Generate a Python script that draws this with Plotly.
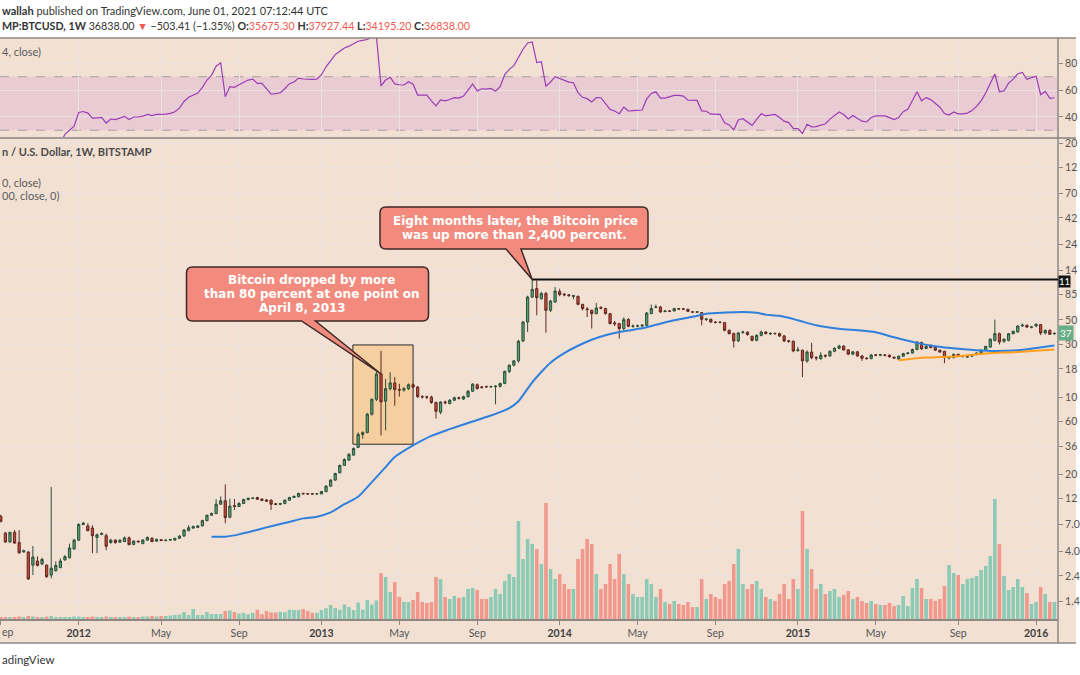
import math
import pandas as pd
import plotly.graph_objects as go

# ------------------------------------------------------------------ data
bar_start = "2011-09-05"          # first weekly bar (Mondays), BITSTAMP BTCUSD 1W

opens = [
    8.3, 5.85, 4.86, 5.95, 4.82, 3.95, 3.95, 3.0, 3.27, 3.08,
    3.0, 2.44, 2.67, 2.86, 3.34, 3.5, 4.2, 5.05, 7.0, 6.8,
    6.5, 5.35, 5.7, 5.55, 4.8, 5.05, 4.85, 4.9, 5.3, 4.62,
    4.95, 4.7, 5.05, 5.25, 4.95, 5.1, 5.0, 5.05, 5.07, 5.25,
    5.5, 6.15, 6.5, 6.6, 6.8, 7.6, 8.5, 8.8, 10.7, 11.5,
    8.15, 10.4, 10.2, 10.85, 11.8, 12.1, 12.3, 11.9, 11.7, 11.65,
    10.8, 10.7, 10.85, 11.65, 12.3, 12.5, 13.4, 13.35, 13.3, 13.25,
    13.25, 13.9, 15.6, 17.7, 20.6, 24.0, 26.8, 29.8, 35.0, 45.9,
    47.7, 70.0, 95.5, 162.0, 91.8, 119.3, 134.5, 117.0, 116.0, 119.0,
    129.5, 123.5, 101.0, 100.5, 100.0, 89.3, 73.0, 90.3, 87.5, 93.7,
    98.5, 96.0, 101.0, 113.0, 129.5, 123.5, 124.5, 124.0, 124.5, 125.0,
    133.0, 171.0, 194.5, 213.0, 323.0, 479.0, 807.0, 962.0, 781.0, 867.0,
    612.0, 727.0, 905.0, 855.0, 845.0, 818.0, 819.0, 693.0, 630.0, 612.0,
    571.0, 650.0, 634.0, 571.0, 470.0, 464.0, 418.0, 504.0, 438.0, 440.0,
    440.0, 448.0, 571.0, 650.0, 655.0, 595.0, 603.0, 603.0, 634.0, 630.0,
    625.0, 592.0, 588.0, 583.0, 504.0, 507.0, 479.0, 477.0, 473.0, 403.0,
    376.0, 323.0, 385.0, 387.0, 356.0, 327.0, 363.0, 389.0, 374.0, 377.0,
    376.0, 358.0, 323.0, 321.0, 264.0, 266.0, 212.0, 256.0, 228.0, 223.0,
    238.0, 236.0, 260.0, 277.0, 290.0, 268.0, 245.0, 257.0, 236.0, 225.0,
    224.0, 241.0, 240.0, 241.0, 240.0, 230.0, 221.0, 235.0, 248.0, 251.0,
    270.0, 312.0, 276.0, 295.0, 284.0, 266.0, 260.0, 226.0, 228.0, 244.0,
    234.0, 231.0, 235.0, 243.0, 251.0, 266.0, 284.0, 326.0, 376.0, 321.0,
    327.0, 376.0, 389.0, 441.0, 448.0, 430.0, 441.0, 454.0, 381.0, 403.0,
    374.0,
]
highs = [
    8.6, 6.0, 6.0, 6.24, 6.24, 4.15, 4.0, 4.47, 3.6, 3.5,
    3.05, 15.3, 3.25, 3.45, 3.7, 4.7, 5.2, 7.2, 7.4, 7.2,
    6.9, 5.8, 5.95, 5.8, 5.2, 5.15, 5.15, 5.45, 5.45, 5.05,
    5.0, 5.15, 5.45, 5.4, 5.2, 5.15, 5.1, 5.2, 5.3, 5.6,
    6.4, 6.9, 6.85, 6.95, 7.75, 8.6, 9.0, 11.9, 12.6, 16.2,
    12.0, 11.9, 11.2, 12.0, 12.3, 12.3, 12.5, 12.1, 11.9, 11.8,
    11.0, 11.0, 11.8, 12.5, 12.8, 13.6, 13.6, 13.5, 13.45, 13.45,
    14.1, 15.9, 18.0, 20.6, 24.5, 27.8, 31.0, 35.0, 48.0, 49.0,
    72.0, 97.0, 170.0, 262.0, 146.0, 168.0, 152.0, 132.0, 123.0, 133.0,
    133.0, 126.0, 104.0, 103.0, 103.0, 91.0, 92.0, 93.0, 96.0, 101.0,
    101.0, 103.0, 116.0, 134.0, 133.0, 126.0, 127.0, 127.0, 128.0, 135.0,
    174.0, 198.0, 215.0, 330.0, 490.0, 830.0, 1163.0, 1143.0, 900.0, 900.0,
    760.0, 994.0, 960.0, 880.0, 860.0, 845.0, 830.0, 700.0, 655.0, 620.0,
    712.0, 665.0, 645.0, 575.0, 490.0, 470.0, 530.0, 520.0, 455.0, 455.0,
    460.0, 590.0, 689.0, 689.0, 670.0, 615.0, 612.0, 645.0, 640.0, 640.0,
    630.0, 600.0, 600.0, 590.0, 520.0, 515.0, 485.0, 485.0, 480.0, 410.0,
    385.0, 390.0, 400.0, 395.0, 360.0, 370.0, 400.0, 395.0, 385.0, 385.0,
    385.0, 366.0, 330.0, 325.0, 285.0, 270.0, 265.0, 310.0, 235.0, 255.0,
    245.0, 264.0, 283.0, 298.0, 295.0, 272.0, 262.0, 262.0, 240.0, 230.0,
    245.0, 246.0, 246.0, 244.0, 243.0, 233.0, 238.0, 252.0, 256.0, 275.0,
    320.0, 318.0, 295.0, 298.0, 288.0, 270.0, 262.0, 232.0, 248.0, 247.0,
    240.0, 236.0, 246.0, 254.0, 270.0, 292.0, 340.0, 504.0, 385.0, 340.0,
    380.0, 400.0, 448.0, 465.0, 455.0, 440.0, 465.0, 460.0, 410.0, 410.0,
    385.0,
]
lows = [
    7.3, 4.8, 4.8, 4.7, 3.8, 3.9, 2.2, 2.44, 2.92, 3.0,
    2.3, 2.28, 2.62, 2.8, 3.3, 3.45, 4.15, 5.0, 6.9, 6.1,
    3.85, 3.85, 5.6, 4.1, 4.7, 4.7, 4.75, 4.85, 4.55, 4.55,
    4.8, 4.65, 5.0, 4.85, 4.9, 4.95, 4.95, 5.0, 5.0, 5.2,
    5.45, 6.1, 6.4, 6.5, 6.75, 7.5, 8.4, 8.7, 10.6, 7.2,
    8.0, 9.5, 10.1, 10.8, 11.6, 11.9, 11.7, 11.4, 11.2, 9.5,
    10.5, 10.5, 10.7, 11.5, 12.2, 12.4, 13.1, 13.1, 13.1, 13.1,
    13.2, 13.8, 15.5, 17.5, 20.3, 23.8, 26.5, 29.5, 34.5, 42.0,
    47.0, 68.0, 92.0, 45.0, 50.0, 115.0, 83.5, 101.0, 112.0, 116.0,
    120.0, 98.0, 97.0, 96.0, 87.0, 64.0, 70.0, 86.0, 86.0, 92.0,
    95.0, 94.0, 99.0, 111.0, 117.0, 119.0, 121.0, 121.0, 86.0, 122.0,
    131.0, 165.0, 190.0, 205.0, 315.0, 389.0, 790.0, 551.0, 760.0, 384.0,
    590.0, 720.0, 820.0, 820.0, 810.0, 770.0, 680.0, 610.0, 532.0, 418.0,
    560.0, 625.0, 560.0, 455.0, 440.0, 339.0, 400.0, 430.0, 425.0, 430.0,
    435.0, 440.0, 565.0, 640.0, 580.0, 590.0, 590.0, 600.0, 620.0, 618.0,
    590.0, 580.0, 580.0, 448.0, 490.0, 470.0, 465.0, 465.0, 395.0, 370.0,
    281.0, 315.0, 375.0, 360.0, 320.0, 320.0, 355.0, 370.0, 365.0, 368.0,
    350.0, 315.0, 310.0, 255.0, 258.0, 152.0, 205.0, 220.0, 215.0, 218.0,
    228.0, 232.0, 255.0, 272.0, 262.0, 240.0, 240.0, 232.0, 213.0, 218.0,
    220.0, 235.0, 235.0, 234.0, 228.0, 222.0, 217.0, 232.0, 244.0, 248.0,
    266.0, 268.0, 272.0, 276.0, 262.0, 253.0, 203.0, 220.0, 224.0, 232.0,
    228.0, 226.0, 232.0, 240.0, 248.0, 262.0, 280.0, 320.0, 300.0, 310.0,
    320.0, 370.0, 385.0, 435.0, 425.0, 420.0, 430.0, 365.0, 370.0, 365.0,
    370.0,
]
closes = [
    7.5, 4.86, 5.95, 4.75, 3.88, 4.05, 2.25, 3.55, 2.98, 3.38,
    2.36, 2.82, 2.98, 3.27, 3.58, 4.3, 5.05, 7.0, 7.2, 6.15,
    5.55, 5.65, 5.8, 4.45, 5.05, 4.8, 5.05, 5.3, 4.6, 4.95,
    4.88, 5.07, 5.35, 4.9, 5.15, 5.02, 5.05, 5.12, 5.25, 5.5,
    6.24, 6.55, 6.7, 6.8, 7.6, 8.5, 8.8, 10.7, 11.5, 8.1,
    10.3, 10.2, 10.85, 11.8, 12.1, 12.15, 11.85, 11.6, 11.4, 10.7,
    10.65, 10.8, 11.65, 12.3, 12.6, 13.4, 13.3, 13.25, 13.25, 13.3,
    13.95, 15.6, 17.7, 20.3, 24.0, 27.2, 30.3, 34.2, 45.9, 47.7,
    70.0, 95.5, 162.0, 90.5, 119.3, 134.5, 117.0, 116.0, 119.0, 129.5,
    123.5, 101.0, 100.5, 100.0, 89.3, 74.5, 90.3, 89.0, 93.7, 98.7,
    97.5, 101.0, 113.0, 131.0, 119.5, 122.5, 124.0, 124.5, 125.5, 133.0,
    171.0, 194.5, 213.0, 321.0, 479.0, 807.0, 948.0, 797.0, 867.0, 612.0,
    743.0, 915.0, 850.0, 845.0, 832.0, 830.0, 693.0, 634.0, 621.0, 571.0,
    642.0, 640.0, 571.0, 464.0, 462.0, 418.0, 504.0, 438.0, 440.0, 441.0,
    448.0, 578.0, 634.0, 655.0, 591.0, 603.0, 600.0, 634.0, 628.0, 628.0,
    599.0, 590.0, 593.0, 507.0, 510.0, 479.0, 475.0, 476.0, 403.0, 376.0,
    323.0, 381.0, 388.0, 369.0, 327.0, 363.0, 389.0, 376.0, 378.0, 376.0,
    358.0, 323.0, 321.0, 262.0, 268.0, 213.0, 256.0, 228.0, 226.0, 239.0,
    236.0, 260.0, 277.0, 290.0, 268.0, 245.0, 257.0, 236.0, 225.0, 224.0,
    241.0, 240.0, 242.0, 239.0, 232.0, 226.0, 235.0, 248.0, 251.0, 270.0,
    316.0, 274.0, 288.0, 281.0, 266.0, 256.0, 228.0, 228.0, 244.0, 235.0,
    235.0, 232.0, 243.0, 251.0, 266.0, 288.0, 335.0, 376.0, 316.0, 335.0,
    376.0, 395.0, 441.0, 448.0, 431.0, 432.0, 457.0, 381.0, 403.0, 371.0,
    378.0,
]
# weekly volume (relative units)
volumes = [
    2, 2, 2, 2, 2.5, 2, 3, 2.5, 2, 2, 2.5, 3, 2, 2, 2, 2, 2.5,
    2.5, 2, 2, 2.5, 2, 2, 2.5, 2, 2, 2, 2, 2.5, 2, 2, 2.5, 2.5, 3, 2.5,
    3, 3, 3.5, 4, 4.5,
    7, 4, 10, 4, 4, 7, 5, 5, 5, 8, 8.6, 7, 5.5, 6.2, 4.8, 6.2, 9.3, 4.8, 7.9, 6.5,
    6.5, 7.2, 6.9, 9.3, 9, 9, 10, 8, 6.2, 6.2, 9, 10.7, 14, 11, 9.3, 14.5, 12, 9,
    16.5, 9.3, 19, 14.5, 18.6,
    46, 42, 27, 37, 22, 17, 17, 19, 27, 17, 16, 17, 42, 40, 22, 20, 23, 21, 22, 30,
    31, 29, 20, 20, 22, 30, 25, 38, 45, 42, 98, 60, 80, 75,
    70, 55, 116, 50, 40, 45, 35, 30, 30, 60, 70, 80, 75, 45, 30, 35, 55, 40, 65, 45,
    35, 25, 22, 22, 40, 35, 22, 30, 17, 15, 18, 15, 14, 17, 12, 12, 40, 20, 25, 22,
    20, 35, 38, 55, 70, 35, 30, 35, 38, 30, 22, 20, 18, 25, 35, 20, 40, 30, 108, 70,
    50, 30, 35, 25, 28, 30, 22, 24, 28, 20, 22, 18, 16, 18, 15, 14, 14, 16, 13,
    14, 23, 13, 31, 40, 31, 20, 20, 18, 20, 33, 54, 46, 44, 35, 40, 41, 43, 49, 53,
    63, 120, 75, 43, 29, 32, 40, 32, 26, 15, 17, 32, 25, 17, 17,
]
# RSI (14, close) per bar
rsi = [
    18, 20, 19, 21, 20, 17, 14, 13, 16, 15, 14, 13, 16, 20,
    27, 30, 33, 43.3, 44, 42.8, 39, 39.3, 39.6, 35.4, 38.4, 38, 39, 40.4, 38, 39.9,
    39.9, 40.5, 41.8, 41, 41.8, 41.7, 42, 42.6, 43.8, 46.5, 51.5, 54.7, 56, 57.8, 62, 67.5,
    71, 77.8, 80.4, 55, 62.6, 62.1, 64, 66, 67.5, 68.2, 65, 65, 61, 56.9, 57.3, 58,
    61, 64.8, 66, 69, 68.3, 68, 68, 68.2, 71.5, 77.4, 82, 86.5, 89, 91.5, 92.8, 94.5,
    96.5, 97.1, 97.8, 99.5, 99.8, 63.1, 67.5, 69.6, 64.6, 64, 63.8, 66.3, 64.4, 56.3,
    56.3, 56.3, 52, 48.2, 52.6, 52, 53, 54.4, 54, 55.5, 60, 64.6, 59.4, 61, 60.7, 61.2,
    59.2, 62.5, 71.6, 75.5, 78.3, 85, 90.5, 95.2, 96, 80.5, 81.2, 62.8, 66, 70, 68.5,
    67.2, 66, 65.5, 58, 54.6, 53.6, 51.1, 54.4, 54.3, 49.8, 45.6, 44.4, 42.4, 47.2, 44.4,
    44.6, 44.8, 45.1, 53.4, 57.5, 58.7, 54, 54, 54.8, 56.1, 56.1, 55.5, 52.4, 52.4, 52.3,
    44.5, 44.2, 42, 41.9, 41.9, 35.6, 34, 30.3, 37.7, 38.6, 36.3, 33.7, 38.2, 42.3, 40.8,
    41.3, 41.8, 39.5, 36.8, 35.7, 31.4, 31.2, 27.6, 34.5, 32.6, 32.7, 34, 34.9, 38.3, 41.2,
    43.6, 41.8, 38.5, 41, 38.8, 36.8, 36.2, 39.5, 40.7, 40.7, 40.7, 39.4, 38, 39.5, 43.9,
    45.6, 52.6, 58.7, 52, 54.4, 52.9, 49.7, 47.2, 42.5, 41.4, 43.7, 42.3, 42.2, 42.8, 44.7,
    47.8, 52, 57.8, 65, 72, 58.8, 59.5, 65.2, 68.2, 72.2, 73.2, 68, 69.2, 70.4, 56.6, 59,
    53.9, 54.3,
]
# MA (50, close) and MA (200, close) read at selected bars (bar index, value)
ma50_bars = [46, 49, 52, 55, 58, 61, 64, 66, 69, 72, 75, 78, 80, 82, 84, 86, 90, 94, 98,
             103, 107, 109, 111, 113, 114, 116, 118, 120, 123, 126, 129, 132, 136, 140,
             143, 147, 151, 154, 158, 162, 165, 167, 170, 174, 178, 183, 187, 191, 195,
             200, 204, 209, 213, 217, 222, 226, 230]
ma50_vals = [5.43, 5.43, 5.70, 6.11, 6.60, 7.07, 7.57, 7.96, 8.23, 9.02, 10.7, 12.5, 15.3,
             18.8, 23.2, 28.6, 36.5, 44.5, 51.2, 60.1, 68.1, 73.0, 79.3, 91.8, 104, 136,
             169, 205, 250, 292, 331, 363, 395, 420, 452, 497, 534, 569, 583, 591, 581,
             559, 545, 497, 448, 416, 403, 387, 348, 310, 289, 274, 266, 262, 266, 279, 294]
ma200_bars = [196, 202, 209, 215, 222, 230]
ma200_vals = [216, 228, 234.5, 248, 256.6, 269.7]

tick_dates = ["2011-09-05", "2012-01-02", "2012-05-07", "2012-09-03", "2013-01-07",
              "2013-05-06", "2013-09-02", "2014-01-06", "2014-05-05", "2014-09-01",
              "2015-01-05", "2015-05-04", "2015-09-07", "2016-01-04"]
tick_labels = ["", "2012", "May", "Sep", "2013", "May", "Sep", "2014", "May", "Sep",
               "2015", "May", "Sep", "2016"]
# price scale: tick values and the part of each label that shows before the crop
price_ticks = [1.4, 2.4, 4, 7, 12, 20, 36, 60, 100, 180, 300, 500, 850, 1400, 2400,
               4200, 7000, 12000, 20000]
price_tick_text = ["1.4", "2.4", "4.0", "7.0", "12", "20", "36", "60", "10", "18", "30",
                   "50", "85", "14", "24", "42", "70", "12", "20"]
rsi_ticks = [40, 60, 80]
rsi_tick_text = ["40", "60", "80"]

# highlighted region (data space)
box_start, box_end = "2013-02-24", "2013-05-27"
box_low, box_high = 37.4, 297

# ------------------------------------------------------------------ style
W, H = 1080, 675
ML, MR, MT, MB = 0, 18, 38, 56
PW, PH = W - ML - MR, H - MT - MB
BG = "#f2e1d3"
BAND = "#e8cbd3"
GRID = "#ebe2df"
FRAME = "#8e8782"
FONT = "Lato, 'Open Sans', sans-serif"
RED_TXT = "#ef5a4f"
CALLOUT = "#f28b7e"


def px(x):
    return (x - ML) / PW


def py(y):
    return (H - MB - y) / PH


dates = pd.date_range(bar_start, periods=len(opens), freq="7D")
dstr = [d.strftime("%Y-%m-%d") for d in dates]
up = [c >= o for o, c in zip(opens, closes)]
vol_colors = ["#8ccab5" if u else "#f2978c" for u in up]

fig = go.Figure()
fig.add_trace(go.Candlestick(
    x=dates, open=opens, high=highs, low=lows, close=closes, yaxis="y2",
    whiskerwidth=0,
    increasing=dict(fillcolor="#55a371", line=dict(color="#2d4f3a", width=1)),
    decreasing=dict(fillcolor="#c9473b", line=dict(color="#5e2820", width=1))))
fig.add_trace(go.Scatter(x=[dates[i] for i in ma50_bars], y=ma50_vals, yaxis="y2",
                         mode="lines", hoverinfo="skip",
                         line=dict(color="#2f80dd", width=2, shape="spline", smoothing=0.7)))
fig.add_trace(go.Scatter(x=[dates[i] for i in ma200_bars], y=ma200_vals, yaxis="y2",
                         mode="lines", hoverinfo="skip",
                         line=dict(color="#ff9d1c", width=2, shape="spline", smoothing=0.7)))
fig.add_trace(go.Bar(x=dates, y=volumes, yaxis="y3", hoverinfo="skip",
                     marker=dict(color=vol_colors, line=dict(width=0))))
fig.add_trace(go.Scatter(x=dates, y=rsi, yaxis="y", mode="lines", hoverinfo="skip",
                         line=dict(color="#9d3bb6", width=1.2)))

x_lo = dates[0] - pd.Timedelta(hours=30)
x_hi = dates[-1] + pd.Timedelta(hours=132)

rsi_lo = py(137.5)
main_hi = py(138.5)

shapes = []
shapes.append(dict(type="rect", xref="paper", yref="paper", x0=px(0), x1=px(W),
                   y0=py(643), y1=py(38), fillcolor=BG, line=dict(width=0), layer="below"))
shapes.append(dict(type="rect", xref="paper", yref="y", x0=0, x1=1, y0=30, y1=70,
                   fillcolor=BAND, line=dict(width=0), layer="below"))
for lvl in (70, 30):
    shapes.append(dict(type="line", xref="paper", yref="y", x0=0, x1=1, y0=lvl, y1=lvl,
                       line=dict(color="#a9a1a0", width=1, dash="dash"), layer="between"))
shapes.append(dict(type="line", xref="paper", yref="paper", x0=px(0), x1=px(W),
                   y0=py(38), y1=py(38), line=dict(color=FRAME, width=1.5)))
shapes.append(dict(type="line", xref="paper", yref="paper", x0=px(0), x1=px(W),
                   y0=py(138), y1=py(138), line=dict(color="#a29a94", width=2)))
shapes.append(dict(type="line", xref="paper", yref="paper", x0=px(0), x1=px(W),
                   y0=py(643), y1=py(643), line=dict(color=FRAME, width=1.5)))
shapes.append(dict(type="line", xref="paper", yref="paper", x0=1, x1=1,
                   y0=py(643), y1=py(38), line=dict(color=FRAME, width=1.5)))
# highlighted April-2013 box (shapes take raw values on the log axis)
shapes.append(dict(type="rect", xref="x", yref="y2", x0=box_start, x1=box_end,
                   y0=box_low, y1=box_high,
                   fillcolor="#f5cfa0", line=dict(color="#2b2b2b", width=1), layer="between"))
# all-time-high line
peak_i = 116
shapes.append(dict(type="line", xref="x", yref="y2", x0=dstr[peak_i], x1=x_hi,
                   y0=highs[peak_i], y1=highs[peak_i],
                   line=dict(color="#111111", width=2)))


def callout_path(l, r, b, t, pl, pr, rad=6):
    return (f"M {l+rad},{t} L {r-rad},{t} Q {r},{t} {r},{t-rad} L {r},{b+rad} "
            f"Q {r},{b} {r-rad},{b} L {pr},{b} L 0,0 L {pl},{b} L {l+rad},{b} "
            f"Q {l},{b} {l},{b+rad} L {l},{t-rad} Q {l},{t} {l+rad},{t} Z")


drop_i = 83
callouts = [
    dict(i=drop_i, price=opens[drop_i], box=(-194.5, 47.5, 53, 107), ptr=(-79.5, -65.5),
         lines=[("Bitcoin dropped by more", -69.5, 94.0),
                ("than 80 percent at one point on", -69.5, 80.0),
                ("April 8, 2013", -78.5, 66.0)]),
    dict(i=peak_i, price=highs[peak_i], box=(-152.2, 115.8, 30.5, 72.5), ptr=(-26.2, -11.2),
         lines=[("Eight months later, the Bitcoin price", -16.5, 58.6),
                ("was up more than 2,400 percent.", -17.5, 44.6)]),
]

annotations = []
for c in callouts:
    l, r, b, t = c["box"]
    shapes.append(dict(type="path", xref="x", yref="y2", xsizemode="pixel", ysizemode="pixel",
                       xanchor=dstr[c["i"]], yanchor=c["price"],
                       path=callout_path(l, r, b, t, *c["ptr"]),
                       fillcolor=CALLOUT, line=dict(color="#3b2a27", width=1.5), layer="above"))
    for s, dx, dy in c["lines"]:
        annotations.append(dict(xref="x", yref="y2", x=dstr[c["i"]], y=math.log10(c["price"]),
                                xshift=dx, yshift=dy, text=f"<b>{s}</b>", showarrow=False,
                                xanchor="center", yanchor="middle",
                                font=dict(family="DejaVu Sans", size=12, color="white")))


def label(x, y, s, size=10.5, color="#333", family=FONT):
    annotations.append(dict(xref="paper", yref="paper", x=px(x), y=py(y), text=s,
                            showarrow=False, xanchor="left", yanchor="middle",
                            font=dict(family=family, size=size, color=color)))


def red(s):
    return f"<span style='color:{RED_TXT}'>{s}</span>"


label(0, 10, "<b>wallah</b> published on TradingView.com, June 01, 2021 07:12:44 UTC", 11)
label(0, 25, "<b>MP:BTCUSD, 1W</b> 36838.00 " + red("▼") + " −503.41 (−1.35%) "
      "<b>O:</b>" + red("35675.30") + " <b>H:</b>" + red("37927.44") +
      " <b>L:</b>" + red("34195.20") + " <b>C:</b>" + red("36838.00"), 10.7)
label(0, 52, "4, close)", 11, "#5a5a5a")
label(0, 151, "<b>n / U.S. Dollar, 1W, BITSTAMP</b>", 11, "#4a4a4a")
label(0, 182, "0, close)", 11, "#5a5a5a")
label(0, 196, "00, close, 0)", 11, "#5a5a5a")
label(0, 632, "ep", 10.5, "#555")
label(0, 659, "adingView", 11.5, "#333")

# price-scale labels (ATH line and last close), cropped like the reference
annotations.append(dict(xref="paper", yref="y2", x=1, y=math.log10(highs[peak_i]),
                        text="11", showarrow=False, xanchor="left", yshift=-1.5,
                        yanchor="middle", bgcolor="#141414", borderpad=0,
                        font=dict(family=FONT, size=9.5, color="white")))
annotations.append(dict(xref="paper", yref="y2", x=1, y=math.log10(closes[-1]),
                        text="37", showarrow=False, xanchor="left",
                        yanchor="middle", bgcolor="#67ad86", borderpad=1,
                        font=dict(family=FONT, size=10, color="white")))

tick_text = [f"<b><span style='color:#3f3f3f'>{t}</span></b>" if t.isdigit() else t
             for t in tick_labels]

fig.update_layout(
    width=W, height=H,
    margin=dict(l=ML, r=MR, t=MT, b=MB),
    paper_bgcolor="white", plot_bgcolor=BG,
    showlegend=False, bargap=0.22,
    font=dict(family=FONT, size=10.5, color="#555"),
    xaxis=dict(type="date", range=[x_lo, x_hi], tickvals=tick_dates, ticktext=tick_text,
               showgrid=True, gridcolor=GRID, gridwidth=1, zeroline=False,
               ticks="outside", ticklen=4, tickcolor=FRAME,
               showline=True, linecolor=FRAME, linewidth=1.5,
               anchor="y2", rangeslider=dict(visible=False),
               tickfont=dict(family=FONT, size=10.5, color="#555")),
    yaxis=dict(domain=[rsi_lo, 1], range=[24.6, 98.9], side="right",
               tickvals=rsi_ticks, ticktext=rsi_tick_text,
               showgrid=True, gridcolor=GRID, zeroline=False,
               ticks="outside", ticklen=4, tickcolor=FRAME, anchor="x",
               tickfont=dict(family=FONT, size=10.5, color="#555")),
    yaxis2=dict(domain=[0, main_hi], side="right", type="log",
                range=[math.log10(0.975), math.log10(22060)],
                tickvals=price_ticks, ticktext=price_tick_text,
                showgrid=True, gridcolor=GRID, zeroline=False,
                ticks="outside", ticklen=4, tickcolor=FRAME, anchor="x",
                tickfont=dict(family=FONT, size=10.5, color="#555")),
    yaxis3=dict(overlaying="y2", range=[0, 480.5], visible=False, anchor="x"),
    shapes=shapes,
    annotations=annotations,
)

fig.write_html("out.html", config={"displayModeBar": False},
               post_script="document.body.style.margin='0px';"
                           "document.body.style.overflow='hidden';")
